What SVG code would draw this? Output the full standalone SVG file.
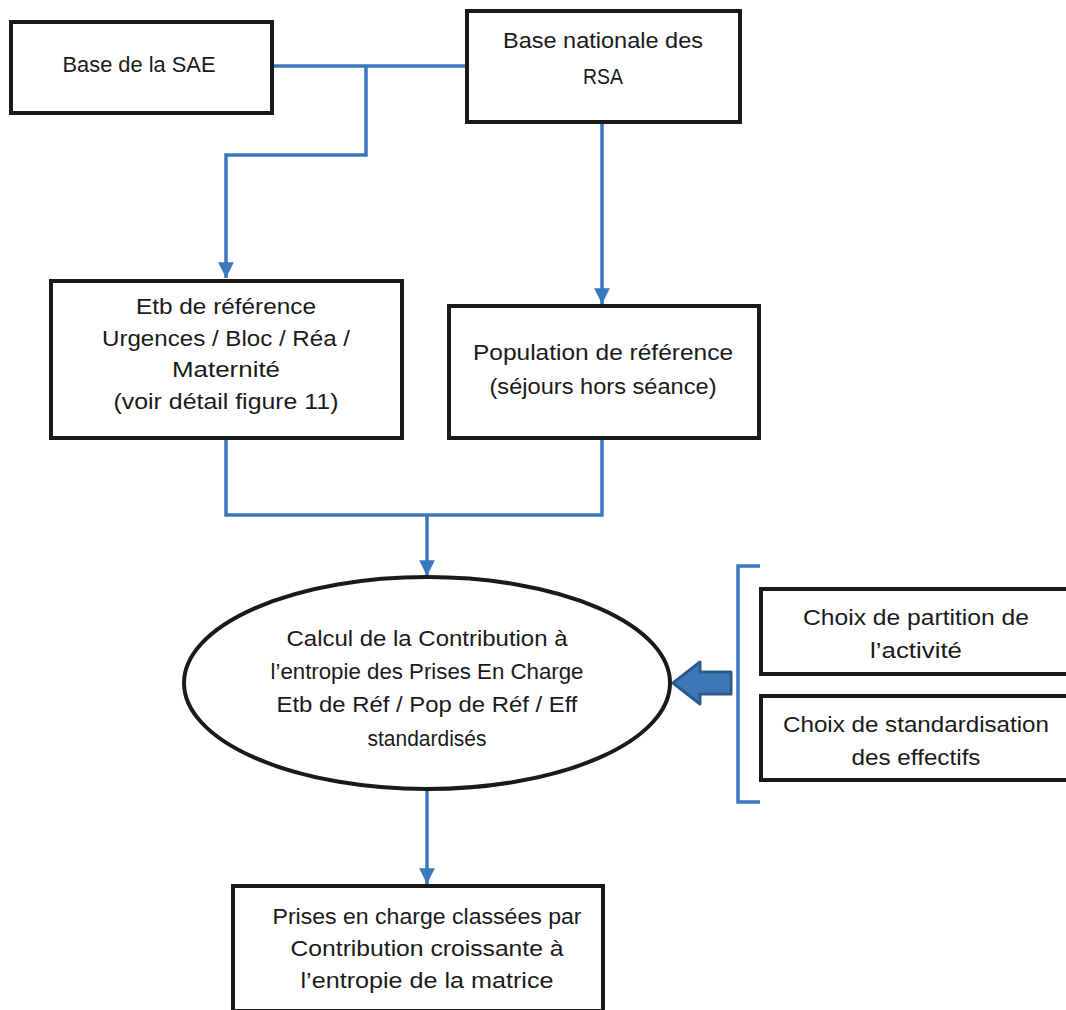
<svg xmlns="http://www.w3.org/2000/svg" width="1066" height="1010" viewBox="0 0 1066 1010">
<defs>
<style>
.box{fill:#fff;stroke:#1a1a1a;stroke-width:4}
.t{font-family:"Liberation Sans",Arial,sans-serif;font-size:22.5px;fill:#1a1a1a;text-anchor:middle}
.c{fill:none;stroke:#3a78bd;stroke-width:3.5}
</style>
<marker id="ah" viewBox="0 0 10 10" refX="10" refY="5" markerWidth="4.5" markerHeight="4.5" orient="auto" markerUnits="strokeWidth">
<path d="M0,0 L10,5 L0,10 z" fill="#3a78bd"/>
</marker>
</defs>
<g id="connectors">
<path class="c" d="M272,66 H466"/>
<path class="c" d="M366,66 V155 H226 V278" marker-end="url(#ah)"/>
<path class="c" d="M602,122 V304" marker-end="url(#ah)"/>
<path class="c" d="M226,438 V515 H602 V438"/>
<path class="c" d="M427,515 V576" marker-end="url(#ah)"/>
<path class="c" d="M427,790 V884" marker-end="url(#ah)"/>
<path class="c" d="M760,566 H738 V802 H760"/>
<path d="M731,672 H700 V662 L673,683 L700,704 V694 H731 Z" fill="#3e77b8" stroke="#2a5a8c" stroke-width="3" stroke-linejoin="round"/>
</g>
<g id="sae">
<rect class="box" x="11" y="22" width="261" height="91"/>
<text class="t" x="139" y="72" textLength="153" lengthAdjust="spacingAndGlyphs">Base de la SAE</text>
</g>
<g id="rsa">
<rect class="box" x="467" y="11" width="273" height="111"/>
<text class="t" x="603" y="48" textLength="200" lengthAdjust="spacingAndGlyphs">Base nationale des</text>
<text class="t" x="603" y="84" textLength="40" lengthAdjust="spacingAndGlyphs">RSA</text>
</g>
<g id="etb">
<rect class="box" x="51" y="281" width="351" height="157"/>
<text class="t" x="226" y="314" textLength="180" lengthAdjust="spacingAndGlyphs">Etb de référence</text>
<text class="t" x="226" y="346" textLength="248" lengthAdjust="spacingAndGlyphs">Urgences / Bloc / Réa /</text>
<text class="t" x="226" y="377" textLength="108" lengthAdjust="spacingAndGlyphs">Maternité</text>
<text class="t" x="226" y="409" textLength="225" lengthAdjust="spacingAndGlyphs">(voir détail figure 11)</text>
</g>
<g id="pop">
<rect class="box" x="449" y="306" width="310" height="132"/>
<text class="t" x="603" y="360" textLength="260" lengthAdjust="spacingAndGlyphs">Population de référence</text>
<text class="t" x="603" y="394" textLength="227" lengthAdjust="spacingAndGlyphs">(séjours hors séance)</text>
</g>
<g id="calcul">
<ellipse cx="427" cy="683" rx="243" ry="106" fill="#fff" stroke="#1a1a1a" stroke-width="4"/>
<text class="t" x="427" y="646" textLength="281" lengthAdjust="spacingAndGlyphs">Calcul de la Contribution à</text>
<text class="t" x="427" y="679" textLength="313" lengthAdjust="spacingAndGlyphs">l’entropie des Prises En Charge</text>
<text class="t" x="427" y="712" textLength="301" lengthAdjust="spacingAndGlyphs">Etb de Réf / Pop de Réf / Eff</text>
<text class="t" x="427" y="746" textLength="119" lengthAdjust="spacingAndGlyphs">standardisés</text>
</g>
<g id="partition">
<rect class="box" x="761" y="589" width="310" height="85"/>
<text class="t" x="916" y="625" textLength="226" lengthAdjust="spacingAndGlyphs">Choix de partition de</text>
<text class="t" x="916" y="658" textLength="92" lengthAdjust="spacingAndGlyphs">l’activité</text>
</g>
<g id="standard">
<rect class="box" x="761" y="696" width="310" height="84"/>
<text class="t" x="916" y="732" textLength="266" lengthAdjust="spacingAndGlyphs">Choix de standardisation</text>
<text class="t" x="916" y="765" textLength="129" lengthAdjust="spacingAndGlyphs">des effectifs</text>
</g>
<g id="result">
<rect class="box" x="233" y="886" width="370" height="125"/>
<text class="t" x="427" y="924" textLength="309" lengthAdjust="spacingAndGlyphs">Prises en charge classées par</text>
<text class="t" x="427" y="956" textLength="273" lengthAdjust="spacingAndGlyphs">Contribution croissante à</text>
<text class="t" x="427" y="988" textLength="253" lengthAdjust="spacingAndGlyphs">l’entropie de la matrice</text>
</g>
</svg>
